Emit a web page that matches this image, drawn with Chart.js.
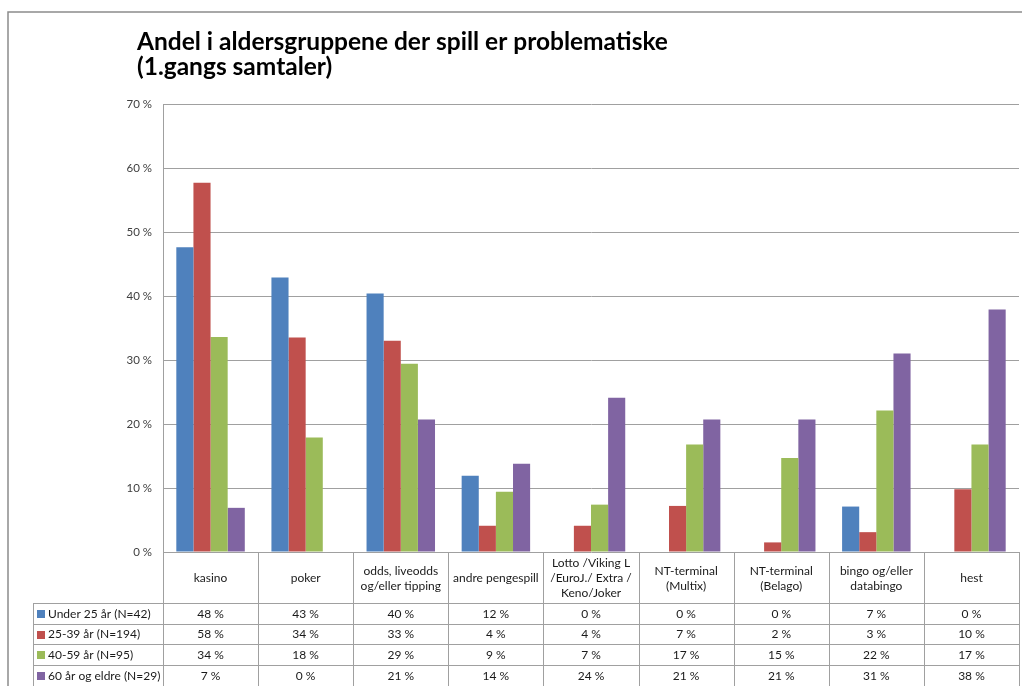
<!DOCTYPE html>
<html>
<head>
<meta charset="utf-8">
<script src="https://cdn.jsdelivr.net/npm/chart.js@4.4.1/dist/chart.umd.min.js"></script>
<style>
  html, body { margin: 0; padding: 0; background: #fff; }
  #wrap { width: 1022px; height: 686px; position: relative; }
</style>
</head>
<body>
<div id="wrap"><canvas id="chart"></canvas></div>
<script>
const categories = [
  'kasino', 'poker', ['odds, liveodds', 'og/eller tipping'], 'andre pengespill',
  ['Lotto /Viking L', '/EuroJ./ Extra /', 'Keno/Joker'], ['NT-terminal', '(Multix)'],
  ['NT-terminal', '(Belago)'], ['bingo og/eller', 'databingo'], 'hest'
];
const seriesLabels = ['Under 25 år (N=42)', '25-39 år (N=194)', '40-59 år (N=95)', '60 år og eldre (N=29)'];
const seriesColors = ['#4F81BD', '#C0504D', '#9BBB59', '#8064A2'];

const under25   = [47.6, 42.9, 40.4, 11.9, 0, 0, 0, 7.1, 0];
const age25_39  = [57.7, 33.5, 33.0, 4.1, 4.1, 7.2, 1.5, 3.1, 9.8];
const age40_59  = [33.6, 17.9, 29.4, 9.4, 7.4, 16.8, 14.7, 22.1, 16.8];
const age60plus = [6.9, 0, 20.7, 13.8, 24.1, 20.7, 20.7, 31.0, 37.9];

const yTicks = [0, 10, 20, 30, 40, 50, 60, 70];

const titleLines = ['Andel i aldersgruppene der spill er problematiske', '(1.gangs samtaler)'];

const FONT = 'Lato, "Open Sans", sans-serif';
const GRID = '#a0a0a0';

const seriesData = [under25, age25_39, age40_59, age60plus];

// frame + title
const framePlugin = {
  id: 'frame',
  beforeDraw(chart) {
    const ctx = chart.ctx;
    ctx.save();
    ctx.strokeStyle = '#8c8c8c';
    ctx.lineWidth = 1.5;
    ctx.beginPath();
    ctx.moveTo(8, 700); ctx.lineTo(8, 12); ctx.lineTo(1030, 12);
    ctx.stroke();
    ctx.fillStyle = '#000';
    ctx.font = 'bold 24.5px ' + FONT;
    ctx.textBaseline = 'alphabetic';
    ctx.fillText(titleLines[0], 137, 50);
    ctx.fillText(titleLines[1], 137, 75);
    ctx.restore();
  }
};

// data table below the plot
const tablePlugin = {
  id: 'dataTable',
  afterDraw(chart) {
    const ctx = chart.ctx;
    const area = chart.chartArea;
    const xs = chart.scales.x;
    const colW = (area.right - area.left) / categories.length;
    const top = area.bottom;
    const headBottom = top + 51;
    const rowH = 20.7;
    const tableLeft = 33;
    const bottom = chart.height + 5;

    ctx.save();
    ctx.strokeStyle = GRID;
    ctx.lineWidth = 1;
    ctx.beginPath();
    for (let i = 0; i <= categories.length; i++) {
      const x = Math.round(area.left + i * colW) + 0.5;
      ctx.moveTo(x, top); ctx.lineTo(x, bottom);
    }
    ctx.moveTo(tableLeft + 0.5, headBottom); ctx.lineTo(tableLeft + 0.5, bottom);
    for (let r = 0; r < seriesLabels.length; r++) {
      const y = Math.round(headBottom + r * rowH) + 0.5;
      ctx.moveTo(tableLeft, y); ctx.lineTo(area.right, y);
    }
    ctx.stroke();

    ctx.fillStyle = '#1a1a1a';
    ctx.font = '12px ' + FONT;
    ctx.textAlign = 'center';
    ctx.textBaseline = 'middle';
    const headMid = (top + headBottom) / 2 + 1;
    categories.forEach((c, i) => {
      const lines = Array.isArray(c) ? c : [c];
      const cx = xs.getPixelForTick(i);
      lines.forEach((ln, k) => {
        ctx.fillText(ln, cx, headMid + (k - (lines.length - 1) / 2) * 15);
      });
    });

    seriesLabels.forEach((lab, r) => {
      const cy = headBottom + r * rowH + rowH / 2 + 0.5;
      ctx.fillStyle = seriesColors[r];
      ctx.fillRect(37, Math.round(cy - 4), 8, 8);
      ctx.fillStyle = '#1a1a1a';
      ctx.textAlign = 'left';
      ctx.fillText(lab, 48, cy);
      ctx.textAlign = 'center';
      seriesData[r].forEach((v, i) => {
        ctx.fillText(Math.round(v) + ' %', xs.getPixelForTick(i), cy);
      });
    });
    ctx.restore();
  }
};

new Chart(document.getElementById('chart'), {
  type: 'bar',
  data: {
    labels: categories,
    datasets: seriesLabels.map((label, i) => ({
      label,
      data: seriesData[i],
      backgroundColor: seriesColors[i],
      borderWidth: 0,
      categoryPercentage: 0.72,
      barPercentage: 1.0
    }))
  },
  options: {
    responsive: true, maintainAspectRatio: false,
    animation: false,
    layout: { padding: { left: 0, top: 104, right: 3, bottom: 134 } },
    plugins: {
      legend: { display: false },
      title: { display: false },
      tooltip: { enabled: false }
    },
    scales: {
      x: { display: false },
      y: {
        min: 0, max: 70,
        afterFit: s => { s.width = 163; },
        afterBuildTicks: s => { s.ticks = yTicks.map(v => ({ value: v })); },
        border: { display: true, color: GRID, width: 1 },
        grid: { color: GRID, drawTicks: false, lineWidth: 1 },
        ticks: {
          padding: 11,
          color: '#404040',
          font: { family: FONT, size: 11.5 },
          callback: v => v + ' %'
        }
      }
    }
  },
  plugins: [framePlugin, tablePlugin]
});
</script>
</body>
</html>
